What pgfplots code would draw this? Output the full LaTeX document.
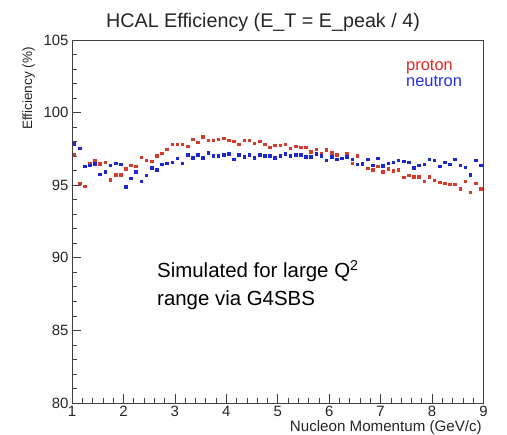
\documentclass[border=0pt]{standalone}
\usepackage{fontspec}
\setmainfont{Liberation Sans}
\usepackage{pgfplots}
\usepackage{pgfplotstable}
\pgfplotsset{compat=1.18}
\definecolor{protonred}{RGB}{214,58,42}
\definecolor{neutronblue}{RGB}{30,40,210}
\definecolor{protontext}{RGB}{228,40,35}
\definecolor{neutrontext}{RGB}{35,45,228}

\pgfplotstableread{
x y
1.05 97.08
1.15 95.11
1.25 94.90
1.35 96.46
1.45 96.69
1.55 96.44
1.65 96.56
1.75 95.36
1.85 95.71
1.95 95.71
2.05 96.12
2.15 96.37
2.25 96.28
2.35 96.90
2.45 96.69
2.55 96.62
2.65 97.00
2.75 97.18
2.85 97.45
2.95 97.81
3.05 97.80
3.15 97.80
3.25 97.66
3.35 98.14
3.45 97.93
3.55 98.32
3.65 98.07
3.75 98.07
3.85 98.14
3.95 98.21
4.05 98.07
4.15 98.00
4.25 97.80
4.35 98.07
4.45 98.07
4.55 97.86
4.65 98.00
4.75 97.80
4.85 97.59
4.95 97.73
5.05 97.73
5.15 97.80
5.25 97.52
5.35 97.66
5.45 97.59
5.55 97.59
5.65 97.27
5.75 97.45
5.85 97.18
5.95 97.41
6.05 97.20
6.15 97.06
6.25 96.85
6.35 97.13
6.45 96.49
6.55 97.02
6.65 96.49
6.75 96.14
6.85 96.03
6.95 96.28
7.05 95.89
7.15 96.10
7.25 95.96
7.35 96.03
7.45 95.52
7.55 95.68
7.65 95.57
7.75 95.57
7.85 95.25
7.95 95.57
8.05 95.32
8.15 95.18
8.25 95.11
8.35 95.04
8.45 95.04
8.55 94.72
8.65 95.25
8.75 94.51
8.85 95.11
8.95 94.72
}\proton

\pgfplotstableread{
x y
1.05 97.84
1.15 97.52
1.25 96.28
1.35 96.35
1.45 96.46
1.55 95.75
1.65 95.91
1.75 96.35
1.85 96.49
1.95 96.42
2.05 94.88
2.15 95.45
2.25 95.91
2.35 95.25
2.45 95.66
2.55 96.17
2.65 96.03
2.75 96.42
2.85 96.49
2.95 96.56
3.05 96.83
3.15 96.49
3.25 97.08
3.35 96.88
3.45 97.08
3.55 96.88
3.65 97.22
3.75 97.02
3.85 97.02
3.95 97.08
4.05 97.15
4.15 96.76
4.25 97.08
4.35 96.95
4.45 97.08
4.55 96.88
4.65 97.08
4.75 97.02
4.85 97.02
4.95 96.88
5.05 97.02
5.15 97.13
5.25 97.02
5.35 97.08
5.45 97.08
5.55 96.95
5.65 96.95
5.75 97.13
5.85 97.02
5.95 96.69
6.05 96.95
6.15 96.76
6.25 96.83
6.35 96.95
6.45 96.76
6.55 96.42
6.65 96.44
6.75 96.76
6.85 96.35
6.95 96.83
7.05 96.33
7.15 96.49
7.25 96.56
7.35 96.69
7.45 96.62
7.55 96.56
7.65 96.17
7.75 96.35
7.85 96.42
7.95 96.76
8.05 96.69
8.15 96.28
8.25 96.56
8.35 96.42
8.45 96.76
8.55 96.35
8.65 96.21
8.75 95.71
8.85 96.69
8.95 96.35
}\neutron

\begin{document}
\begin{tikzpicture}
\path[use as bounding box] (0,0) rectangle (507bp,435bp);
\begin{axis}[
  at={(72bp,32bp)}, anchor=south west,
  scale only axis, width=411.5bp, height=363bp,
  xmin=1, xmax=9, ymin=80, ymax=105,
  xtick={1,2,...,9}, ytick={80,85,...,105},
  minor x tick num=4, minor y tick num=4,
  tick pos=left, tick align=inside,
  major tick length=9bp, minor tick length=5bp,
  axis line style={line width=0.8bp, black!75},
  every tick/.style={line width=0.7bp, black!75},
  /pgf/number format/assume math mode=true,
  ticklabel style={font=\fontsize{15}{15}\selectfont, text=black!85},
  clip=false,
]
\addplot[only marks, color=protonred, mark=square*, mark size=1.3bp, mark options={solid, draw=protonred, fill=protonred, line width=0pt}] table[x=x,y=y] {\proton};
\addplot[only marks, color=neutronblue, mark=square*, mark size=1.3bp, mark options={solid, draw=neutronblue, fill=neutronblue, line width=0pt}] table[x=x,y=y] {\neutron};
\end{axis}
\node[anchor=base, inner sep=0, font=\fontsize{19.8}{20}\selectfont, text=black!85] at (263bp,407bp) {HCAL Efficiency (E\_T = E\_peak / 4)};
\node[rotate=90, anchor=base east, inner sep=0, font=\fontsize{13.6}{14}\selectfont, text=black!85] at (32bp,388bp) {Efficiency (\%)};
\node[anchor=base east, inner sep=0, font=\fontsize{15.2}{16}\selectfont, text=black!85] at (482bp,4bp) {Nucleon Momentum (GeV/c)};
\node[anchor=base west, inner sep=0, font=\fontsize{16.5}{17}\selectfont, text=protontext] at (406bp,364bp) {proton};
\node[anchor=base west, inner sep=0, font=\fontsize{16.5}{17}\selectfont, text=neutrontext] at (406bp,348bp) {neutron};
\node[anchor=base west, inner sep=0, font=\fontsize{20.5}{24}\selectfont] at (157bp,157bp) {Simulated for large Q\textsuperscript{2}};
\node[anchor=base west, inner sep=0, font=\fontsize{20.5}{24}\selectfont] at (157bp,129.5bp) {range via G4SBS};
\end{tikzpicture}
\end{document}
